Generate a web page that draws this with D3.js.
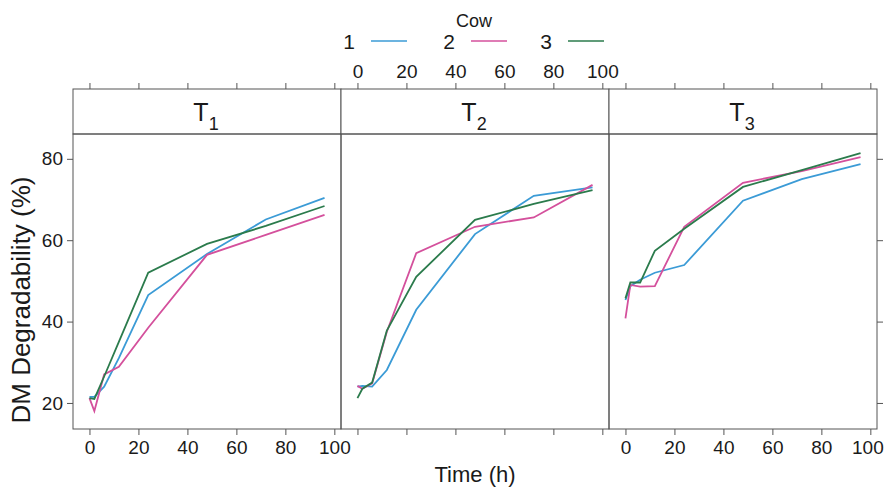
<!DOCTYPE html>
<html>
<head>
<meta charset="utf-8">
<script src="https://cdn.jsdelivr.net/npm/d3@7"></script>
<style>
  body { margin: 0; background: #fff; }
  text { font-family: "Liberation Sans", Arial, sans-serif; fill: #1a1a1a; }
</style>
</head>
<body>
<svg id="chart" width="885" height="488"></svg>
<script>
// sampling times (h)
const times = [0, 2, 6, 12, 24, 48, 72, 96];
const cows = ['1', '2', '3'];
const colors = ['#3b9bd6', '#d4509c', '#2b7b4c'];
const treatments = ['1', '2', '3'];
const xTicks = [0, 20, 40, 60, 80, 100];
const yTicks = [20, 40, 60, 80];

// DM degradability (%) per cow, one array per treatment
const t1 = [
  [21.5, 21.5, 24.0, 31.0, 46.5, 56.6, 65.1, 70.4],
  [21.2, 18.0, 27.0, 28.9, 38.5, 56.4, 61.3, 66.2],
  [21.2, 21.0, 26.5, 35.0, 52.0, 59.1, 63.5, 68.4]
];
const t2 = [
  [24.0, 24.2, 24.0, 28.1, 42.9, 61.5, 70.9, 73.0],
  [24.2, 23.5, 24.8, 37.5, 56.8, 63.3, 65.6, 73.6],
  [21.2, 23.5, 25.0, 37.8, 51.0, 65.0, 68.9, 72.3]
];
const t3 = [
  [45.3, 48.7, 50.3, 52.0, 53.9, 69.7, 75.0, 78.7],
  [40.8, 49.0, 48.6, 48.7, 63.3, 74.1, 77.0, 80.4],
  [45.7, 49.6, 49.6, 57.4, 62.8, 73.1, 77.2, 81.4]
];
const panelData = [t1, t2, t3];

const svg = d3.select('#chart');
const padL = 73, padT = 89, stripH = 45, padB = 429, panelW = 268;
const plotTop = padT + stripH;
const frameCol = '#555';

let y = d3.scaleLinear().domain([13.6, 86.1]).range([padB, plotTop]);

let line = d3.line();

treatments.forEach(function (tr, p) {
  let x0 = padL + p * panelW;
  let x = d3.scaleLinear().domain([-6.72, 102.72]).range([x0, x0 + panelW]);
  let g = svg.append('g');

  // lines
  panelData[p].forEach(function (vals, c) {
    g.append('path')
      .datum(times.map((t, i) => [x(t), y(vals[i])]))
      .attr('d', line)
      .attr('fill', 'none')
      .attr('stroke', colors[c])
      .attr('stroke-width', 1.8);
  });

  // strip
  g.append('rect')
    .attr('x', x0).attr('y', padT)
    .attr('width', panelW).attr('height', stripH)
    .attr('fill', '#fff').attr('stroke', frameCol);
  let st = g.append('text')
    .attr('x', x0 + panelW / 2 - 1).attr('y', padT + 32)
    .attr('text-anchor', 'middle')
    .style('font-size', '25px');
  st.append('tspan').text('T');
  st.append('tspan').attr('dy', 9).style('font-size', '18px').text(tr);

  // panel frame
  g.append('rect')
    .attr('x', x0).attr('y', plotTop)
    .attr('width', panelW).attr('height', padB - plotTop)
    .attr('fill', 'none').attr('stroke', frameCol);

  // bottom axis (labels on panels 1 and 3)
  let xb = d3.axisBottom(x).tickValues(xTicks).tickSize(6).tickPadding(6);
  if (p == 1) xb.tickFormat('');
  let bAxis = g.append('g').attr('class', 'axis')
    .attr('transform', 'translate(0,' + padB + ')')
    .call(xb);
  if (p == 2) {
    // keep the last label inside the page
    bAxis.selectAll('text').filter(d => d == 100).attr('dx', -3);
  }

  // top axis (labels on panel 2)
  let xt = d3.axisTop(x).tickValues(xTicks).tickSize(6).tickPadding(5);
  if (p != 1) xt.tickFormat('');
  g.append('g').attr('class', 'axis')
    .attr('transform', 'translate(0,' + padT + ')')
    .call(xt);

  if (p == 0) {
    g.append('g').attr('class', 'axis')
      .attr('transform', 'translate(' + x0 + ',0)')
      .call(d3.axisLeft(y).tickValues(yTicks).tickSize(6).tickPadding(4));
  }
  if (p == 2) {
    g.append('g').attr('class', 'axis')
      .attr('transform', 'translate(' + (x0 + panelW) + ',0)')
      .call(d3.axisRight(y).tickValues(yTicks).tickSize(6).tickFormat(''));
  }
});

svg.selectAll('.axis .domain').remove();
svg.selectAll('.axis line').attr('stroke', frameCol);
svg.selectAll('.axis text')
  .style('font-size', '19px')
  .style('font-family', '"Liberation Sans", Arial, sans-serif')
  .attr('fill', '#1a1a1a');

// axis titles
svg.append('text')
  .attr('x', padL + 1.5 * panelW).attr('y', 482)
  .attr('text-anchor', 'middle')
  .style('font-size', '22px')
  .text('Time (h)');

svg.append('text')
  .attr('transform', 'translate(30,300) rotate(-90)')
  .attr('text-anchor', 'middle')
  .style('font-size', '26px')
  .text('DM Degradability (%)');

// legend
svg.append('text')
  .attr('x', 474).attr('y', 27)
  .attr('text-anchor', 'middle')
  .style('font-size', '18px')
  .text('Cow');

let keyX = [355, 455, 552];
let key = svg.append('g').selectAll('g')
  .data(cows)
  .enter()
  .append('g')
  .attr('transform', (d, i) => 'translate(' + keyX[i] + ',0)');
key.append('text')
  .attr('x', 0).attr('y', 49)
  .attr('text-anchor', 'end')
  .style('font-size', '21px')
  .text(d => d);
key.append('line')
  .attr('x1', 16).attr('x2', 52)
  .attr('y1', 41).attr('y2', 41)
  .attr('stroke', (d, i) => colors[i])
  .attr('stroke-width', 1.5);
</script>
</body>
</html>
